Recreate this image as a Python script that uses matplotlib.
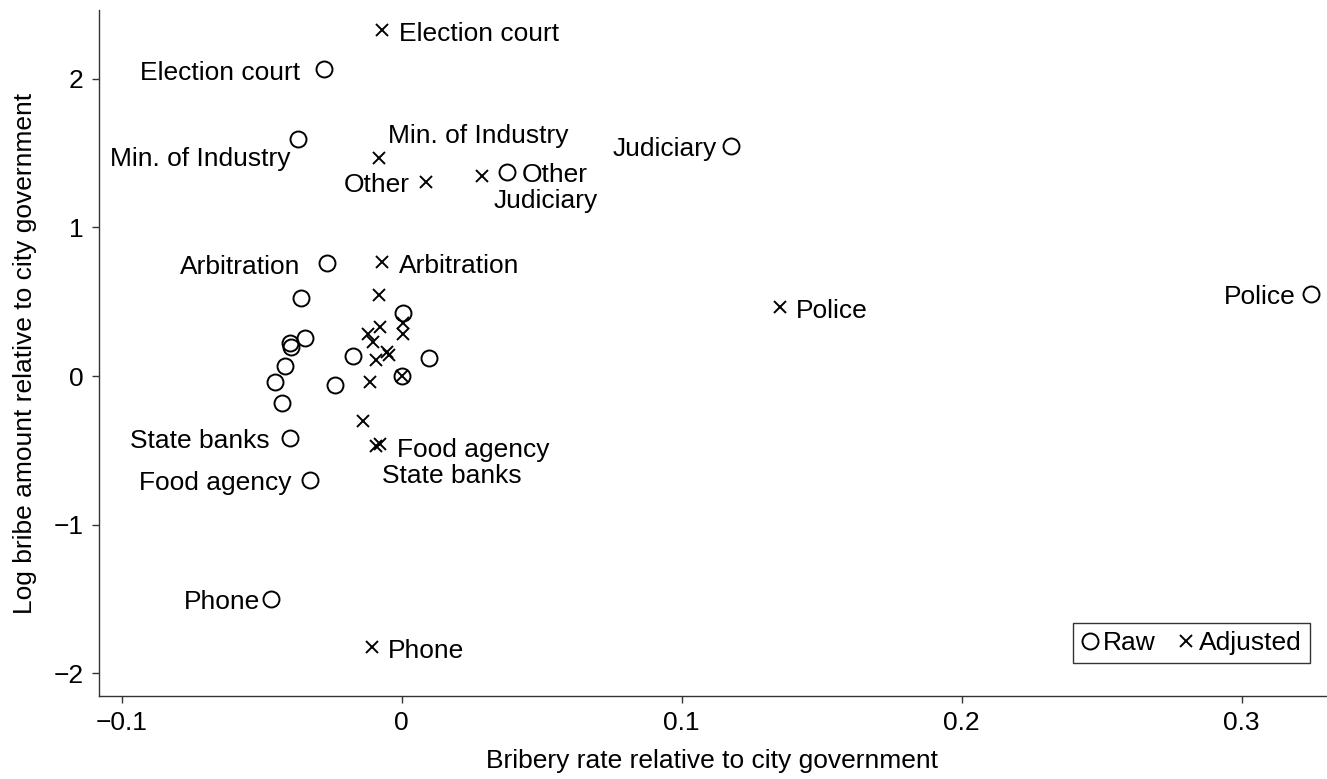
import matplotlib
matplotlib.use('Agg')
import matplotlib.pyplot as plt

plt.rcParams['font.family'] = ['Liberation Sans', 'DejaVu Sans']
FS = 19

# ---- data ----
raw_names = ["Election court", "Min. of Industry", "Other", "Judiciary", "Arbitration",
             "Police", "State banks", "Food agency", "Phone"]
raw_x = [-0.0279, -0.0371, 0.0375, 0.1175, -0.0268, 0.3246, -0.0400, -0.0329, -0.0468]
raw_y = [2.067, 1.597, 1.376, 1.550, 0.758, 0.550, -0.416, -0.698, -1.503]
raw_other_x = [-0.0361, -0.0400, -0.0396, -0.0346, -0.0418, -0.0454, -0.0429,
               -0.0175, -0.0239, 0.0004, 0.0096, 0.0000]
raw_other_y = [0.523, 0.221, 0.195, 0.255, 0.067, -0.040, -0.181,
               0.134, -0.060, 0.423, 0.121, 0.000]

adj_names = ["Election court", "Min. of Industry", "Other", "Judiciary", "Arbitration",
             "Police", "State banks", "Food agency", "Phone"]
adj_x = [-0.0071, -0.0082, 0.0086, 0.0286, -0.0071, 0.1350, -0.0093, -0.0079, -0.0107]
adj_y = [2.329, 1.470, 1.309, 1.349, 0.765, 0.463, -0.470, -0.456, -1.826]
adj_other_x = [-0.0082, -0.0079, -0.0121, -0.0104, 0.0004, 0.0004, -0.0054,
               -0.0046, -0.0093, -0.0114, 0.0000, -0.0139]
adj_other_y = [0.544, 0.329, 0.282, 0.228, 0.356, 0.282, 0.161,
               0.141, 0.107, -0.040, 0.000, -0.302]

x_ticks = [-0.1, 0, 0.1, 0.2, 0.3]
x_ticklabels = ["\u22120.1", "0", "0.1", "0.2", "0.3"]
y_ticks = [-2, -1, 0, 1, 2]

# label placement (pixel offsets from the marker, alignment)
raw_pos = {
    "Election court": (-23, -4, 'right'),
    "Min. of Industry": (-7, -20, 'right'),
    "Other": (15, -3, 'left'),
    "Judiciary": (-14, -3, 'right'),
    "Arbitration": (-26, -4, 'right'),
    "Police": (-15, -3, 'right'),
    "State banks": (-20, -3, 'right'),
    "Food agency": (-18, -3, 'right'),
    "Phone": (-11, -3, 'right'),
}
adj_pos = {
    "Election court": (17, -4, 'left'),
    "Min. of Industry": (9, 22, 'left'),
    "Other": (-16, -4, 'right'),
    "Judiciary": (12, -25, 'left'),
    "Arbitration": (17, -4, 'left'),
    "Police": (16, -4, 'left'),
    "State banks": (6, -30, 'left'),
    "Food agency": (17, -6, 'left'),
    "Phone": (16, -4, 'left'),
}

fig = plt.figure(figsize=(13.27, 7.79), dpi=100)
ax = fig.add_axes([99 / 1327, 83 / 779, (1326 - 99) / 1327, (696 - 10) / 779])

circ = dict(marker='o', ms=11.5, mfc='none', mec='black', mew=1.4, ls='none')
cross = dict(marker='x', ms=8, mec='black', mew=1.4, ls='none')

ax.plot(raw_x + raw_other_x, raw_y + raw_other_y, label='Raw', **circ)
ax.plot(adj_x + adj_other_x, adj_y + adj_other_y, label='Adjusted', **cross)

for name, x, y in zip(raw_names, raw_x, raw_y):
    dx, dy, ha = raw_pos[name]
    ax.annotate(name, (x, y), xytext=(dx, dy), textcoords='offset pixels',
                ha=ha, va='center', fontsize=FS)
for name, x, y in zip(adj_names, adj_x, adj_y):
    dx, dy, ha = adj_pos[name]
    ax.annotate(name, (x, y), xytext=(dx, dy), textcoords='offset pixels',
                ha=ha, va='center', fontsize=FS)

ax.set_xlim(-0.1081, 0.3301)
ax.set_ylim(-2.153, 2.463)
ax.set_xticks(x_ticks)
ax.set_xticklabels(x_ticklabels)
ax.set_yticks(y_ticks)
ax.spines['top'].set_visible(False)
ax.spines['right'].set_visible(False)
for s in ('left', 'bottom'):
    ax.spines[s].set_linewidth(1.0)
    ax.spines[s].set_color('#333333')
ax.tick_params(direction='out', length=5, width=1.0, labelsize=FS, pad=6, color='#333333')

ax.set_xlabel('Bribery rate relative to city government', fontsize=FS, labelpad=10)
ax.set_ylabel('Log bribe amount relative to city government', fontsize=FS, labelpad=12)

leg = ax.legend(loc='lower right', bbox_to_anchor=(0.987, 0.048), borderaxespad=0,
                ncol=2, fontsize=FS, frameon=True, fancybox=False, handlelength=0.7,
                handletextpad=0.15, columnspacing=0.8, borderpad=0.3)
leg.get_frame().set_edgecolor('black')
leg.get_frame().set_linewidth(1.0)

fig.savefig('out.png', dpi=100)
